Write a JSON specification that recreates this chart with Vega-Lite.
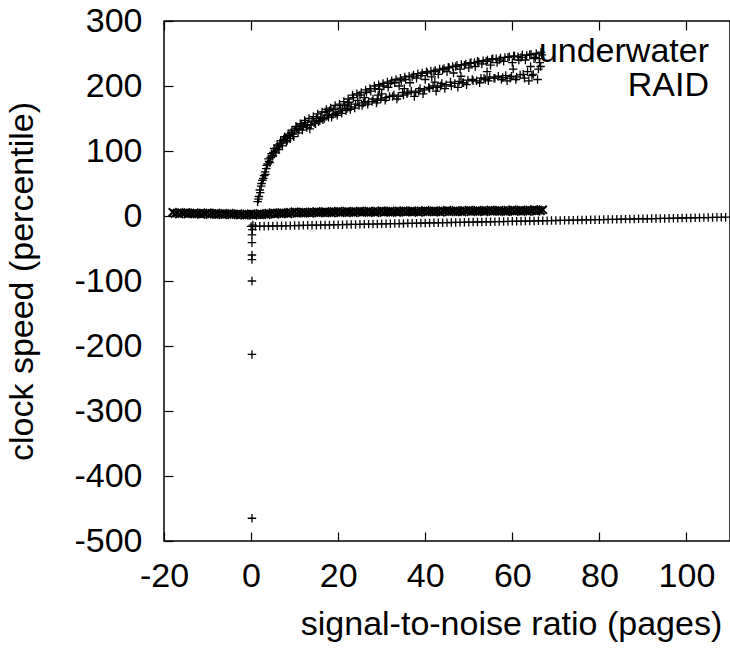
{
  "$schema": "https://vega.github.io/schema/vega-lite/v6.json",
  "width": 566,
  "height": 520,
  "autosize": {"type": "none"},
  "padding": {"left": 164, "top": 21, "right": 0, "bottom": 107},
  "background": "#ffffff",
  "datasets": {
    "underwater": [
      {"x":1.5,"y":22},{"x":1.8,"y":30},{"x":2.0,"y":40},{"x":2.3,"y":46},{"x":2.6,"y":55},{"x":3.0,"y":62},{"x":3.2,"y":68},{"x":3.5,"y":73},{"x":3.8,"y":80},{"x":4.1,"y":84},
      {"x":4.5,"y":90},{"x":4.8,"y":93},{"x":5.1,"y":98},{"x":5.5,"y":100},{"x":5.8,"y":104},{"x":6.2,"y":106},{"x":6.6,"y":111},{"x":7.0,"y":112},{"x":7.5,"y":118},{"x":8.0,"y":120},
      {"x":8.3,"y":116},{"x":8.8,"y":124},{"x":9.2,"y":128},{"x":9.6,"y":126},{"x":10.0,"y":131},{"x":10.5,"y":135},{"x":11.0,"y":133},{"x":11.5,"y":140},{"x":12.0,"y":138},{"x":12.5,"y":144},
      {"x":13.0,"y":140},{"x":13.5,"y":134},{"x":14.0,"y":146},{"x":14.5,"y":143},{"x":15.0,"y":150},{"x":15.5,"y":145},{"x":16.0,"y":152},{"x":16.5,"y":148},{"x":17.0,"y":160},{"x":17.5,"y":155},
      {"x":18.0,"y":162},{"x":18.5,"y":152},{"x":19.0,"y":164},{"x":19.5,"y":158},{"x":20.0,"y":160},{"x":20.5,"y":166},{"x":21.0,"y":163},{"x":21.5,"y":170},{"x":22.0,"y":165},{"x":22.5,"y":175},
      {"x":23.0,"y":168},{"x":23.5,"y":182},{"x":24.0,"y":172},{"x":24.5,"y":178},{"x":25.0,"y":186},{"x":25.5,"y":170},{"x":26.0,"y":182},{"x":26.5,"y":190},{"x":27.0,"y":176},{"x":27.5,"y":192},
      {"x":28.0,"y":180},{"x":28.5,"y":196},{"x":29.0,"y":178},{"x":29.5,"y":195},{"x":30.0,"y":188},{"x":30.5,"y":200},{"x":31.0,"y":182},{"x":31.5,"y":198},{"x":32.0,"y":204},{"x":32.5,"y":184},
      {"x":33.0,"y":205},{"x":33.5,"y":180},{"x":34.0,"y":200},{"x":34.5,"y":208},{"x":35.0,"y":186},{"x":35.5,"y":210},{"x":36.0,"y":190},{"x":36.5,"y":205},{"x":37.0,"y":214},{"x":37.5,"y":184},
      {"x":38.0,"y":212},{"x":38.5,"y":192},{"x":39.0,"y":216},{"x":39.5,"y":188},{"x":40.0,"y":210},{"x":40.5,"y":220},{"x":41.0,"y":196},{"x":41.5,"y":214},{"x":42.0,"y":222},{"x":42.5,"y":192},
      {"x":43.0,"y":218},{"x":43.5,"y":200},{"x":44.0,"y":225},{"x":44.5,"y":196},{"x":45.0,"y":222},{"x":45.5,"y":228},{"x":46.0,"y":200},{"x":46.5,"y":220},{"x":47.0,"y":230},{"x":47.5,"y":198},
      {"x":48.0,"y":226},{"x":48.5,"y":205},{"x":49.0,"y":232},{"x":49.5,"y":202},{"x":50.0,"y":228},{"x":50.5,"y":236},{"x":51.0,"y":208},{"x":51.5,"y":230},{"x":52.0,"y":238},{"x":52.5,"y":205},
      {"x":53.0,"y":234},{"x":53.5,"y":212},{"x":54.0,"y":238},{"x":54.5,"y":208},{"x":55.0,"y":232},{"x":55.5,"y":242},{"x":56.0,"y":212},{"x":56.5,"y":236},{"x":57.0,"y":240},{"x":57.5,"y":210},
      {"x":58.0,"y":238},{"x":58.5,"y":216},{"x":59.0,"y":244},{"x":59.5,"y":212},{"x":60.0,"y":236},{"x":60.5,"y":246},{"x":61.0,"y":214},{"x":61.5,"y":240},{"x":62.0,"y":244},{"x":62.5,"y":218},
      {"x":63.0,"y":240},{"x":63.5,"y":222},{"x":64.0,"y":248},{"x":64.5,"y":216},{"x":65.0,"y":242},{"x":65.5,"y":250},{"x":66.0,"y":226},{"x":66.3,"y":236},{"x":66.6,"y":252},{"x":66.5,"y":230},
      {"x":22.2,"y":172},{"x":26.2,"y":176},{"x":29.2,"y":186},{"x":35.2,"y":196},{"x":42.2,"y":206},{"x":48.2,"y":215},{"x":54.2,"y":222},{"x":60.2,"y":226},{"x":64.2,"y":230},
      {"x":1.7,"y":26},{"x":2.1,"y":36},{"x":2.4,"y":50},{"x":2.8,"y":58},{"x":3.3,"y":64},{"x":3.6,"y":78},{"x":4.0,"y":88},{"x":4.3,"y":82},{"x":4.7,"y":96},{"x":5.0,"y":92},
      {"x":5.3,"y":104},{"x":5.7,"y":97},{"x":6.0,"y":109},{"x":6.4,"y":102},{"x":6.8,"y":116},{"x":7.2,"y":108},{"x":7.7,"y":122},{"x":8.1,"y":114},{"x":8.5,"y":126},{"x":9.0,"y":119},
      {"x":9.4,"y":132},{"x":9.8,"y":122},{"x":10.3,"y":138},{"x":10.8,"y":128},{"x":11.3,"y":142},{"x":11.8,"y":132},{"x":12.3,"y":147},{"x":12.8,"y":136},{"x":13.3,"y":150},{"x":13.8,"y":140},
      {"x":14.3,"y":153},{"x":14.8,"y":142},{"x":15.3,"y":157},{"x":15.8,"y":147},{"x":16.3,"y":160},{"x":16.8,"y":150},{"x":17.3,"y":164},{"x":17.8,"y":152},{"x":18.3,"y":166},{"x":18.8,"y":156},
      {"x":19.3,"y":170},{"x":19.8,"y":155},{"x":20.3,"y":172},{"x":20.8,"y":158},{"x":21.3,"y":176},{"x":21.8,"y":162},{"x":22.3,"y":180},{"x":22.8,"y":164},{"x":23.3,"y":186},{"x":23.8,"y":166},
      {"x":24.3,"y":188},{"x":24.8,"y":170},{"x":25.3,"y":190},{"x":25.8,"y":174},{"x":26.3,"y":194},{"x":26.8,"y":172},{"x":27.3,"y":196},{"x":27.8,"y":176},{"x":28.3,"y":200},{"x":28.8,"y":174},
      {"x":29.3,"y":202},{"x":29.8,"y":180},{"x":30.3,"y":204},{"x":30.8,"y":178},{"x":31.3,"y":206},{"x":31.8,"y":184},{"x":32.3,"y":208},{"x":32.8,"y":186},{"x":33.3,"y":210},{"x":33.8,"y":184},
      {"x":34.3,"y":212},{"x":34.8,"y":190},{"x":35.3,"y":214},{"x":35.8,"y":188},{"x":36.3,"y":215},{"x":36.8,"y":192},{"x":37.3,"y":217},{"x":37.8,"y":190},{"x":38.3,"y":219},{"x":38.8,"y":196},
      {"x":39.3,"y":220},{"x":39.8,"y":194},{"x":40.3,"y":222},{"x":40.8,"y":198},{"x":41.3,"y":223},{"x":41.8,"y":200},{"x":42.3,"y":224},{"x":42.8,"y":198},{"x":43.3,"y":226},{"x":43.8,"y":204},
      {"x":44.3,"y":227},{"x":44.8,"y":202},{"x":45.3,"y":229},{"x":45.8,"y":206},{"x":46.3,"y":230},{"x":46.8,"y":204},{"x":47.3,"y":232},{"x":47.8,"y":207},{"x":48.3,"y":233},{"x":48.8,"y":205},
      {"x":49.3,"y":234},{"x":49.8,"y":209},{"x":50.3,"y":235},{"x":50.8,"y":210},{"x":51.3,"y":236},{"x":51.8,"y":208},{"x":52.3,"y":237},{"x":52.8,"y":212},{"x":53.3,"y":239},{"x":53.8,"y":210},
      {"x":54.3,"y":240},{"x":54.8,"y":214},{"x":55.3,"y":241},{"x":55.8,"y":212},{"x":56.3,"y":242},{"x":56.8,"y":215},{"x":57.3,"y":243},{"x":57.8,"y":213},{"x":58.3,"y":244},{"x":58.8,"y":208},
      {"x":59.3,"y":245},{"x":59.8,"y":215},{"x":60.3,"y":246},{"x":60.8,"y":210},{"x":61.3,"y":245},{"x":61.8,"y":217},{"x":62.3,"y":248},{"x":62.8,"y":212},{"x":63.3,"y":247},{"x":63.8,"y":208},
      {"x":64.3,"y":249},{"x":64.8,"y":218},{"x":65.3,"y":244},{"x":65.8,"y":210},{"x":66.2,"y":242},{"x":66.8,"y":248},
      {"x":0.2,"y":-465},{"x":0.2,"y":-213},{"x":0.2,"y":-100},{"x":0.2,"y":-67},{"x":0.2,"y":-60},{"x":0.2,"y":-41},{"x":0.2,"y":-29},{"x":0.3,"y":-21},{"x":0.4,"y":-14},
      {"x":0,"y":-16.0},{"x":1,"y":-15.9},{"x":2,"y":-15.7},{"x":3,"y":-15.6},{"x":4,"y":-15.5},{"x":5,"y":-15.4},{"x":6,"y":-15.2},{"x":7,"y":-15.1},{"x":8,"y":-15.0},{"x":9,"y":-14.8},
      {"x":10,"y":-14.7},{"x":11,"y":-14.6},{"x":12,"y":-14.4},{"x":13,"y":-14.3},{"x":14,"y":-14.2},{"x":15,"y":-14.1},{"x":16,"y":-13.9},{"x":17,"y":-13.8},{"x":18,"y":-13.7},{"x":19,"y":-13.5},
      {"x":20,"y":-13.4},{"x":21,"y":-13.3},{"x":22,"y":-13.1},{"x":23,"y":-13.0},{"x":24,"y":-12.9},{"x":25,"y":-12.8},{"x":26,"y":-12.6},{"x":27,"y":-12.5},{"x":28,"y":-12.4},{"x":29,"y":-12.2},
      {"x":30,"y":-12.1},{"x":31,"y":-12.0},{"x":32,"y":-11.8},{"x":33,"y":-11.7},{"x":34,"y":-11.6},{"x":35,"y":-11.5},{"x":36,"y":-11.3},{"x":37,"y":-11.2},{"x":38,"y":-11.1},{"x":39,"y":-10.9},
      {"x":40,"y":-10.8},{"x":41,"y":-10.7},{"x":42,"y":-10.5},{"x":43,"y":-10.4},{"x":44,"y":-10.3},{"x":45,"y":-10.2},{"x":46,"y":-10.0},{"x":47,"y":-9.9},{"x":48,"y":-9.8},{"x":49,"y":-9.6},
      {"x":50,"y":-9.5},{"x":51,"y":-9.4},{"x":52,"y":-9.2},{"x":53,"y":-9.1},{"x":54,"y":-9.0},{"x":55,"y":-8.9},{"x":56,"y":-8.7},{"x":57,"y":-8.6},{"x":58,"y":-8.5},{"x":59,"y":-8.3},
      {"x":60,"y":-8.2},{"x":61,"y":-8.1},{"x":62,"y":-7.9},{"x":63,"y":-7.8},{"x":64,"y":-7.7},{"x":65,"y":-7.6},{"x":66,"y":-7.4},{"x":67,"y":-7.3},{"x":68,"y":-7.2},{"x":69,"y":-7.0},
      {"x":70,"y":-6.9},{"x":71,"y":-6.8},{"x":72,"y":-6.6},{"x":73,"y":-6.5},{"x":74,"y":-6.4},{"x":75,"y":-6.3},{"x":76,"y":-6.1},{"x":77,"y":-6.0},{"x":78,"y":-5.9},{"x":79,"y":-5.7},
      {"x":80,"y":-5.6},{"x":81,"y":-5.5},{"x":82,"y":-5.3},{"x":83,"y":-5.2},{"x":84,"y":-5.1},{"x":85,"y":-5.0},{"x":86,"y":-4.8},{"x":87,"y":-4.7},{"x":88,"y":-4.6},{"x":89,"y":-4.4},
      {"x":90,"y":-4.3},{"x":91,"y":-4.2},{"x":92,"y":-4.0},{"x":93,"y":-3.9},{"x":94,"y":-3.8},{"x":95,"y":-3.7},{"x":96,"y":-3.5},{"x":97,"y":-3.4},{"x":98,"y":-3.3},{"x":99,"y":-3.1},
      {"x":100,"y":-3.0},{"x":101,"y":-2.9},{"x":102,"y":-2.7},{"x":103,"y":-2.6},{"x":104,"y":-2.5},{"x":105,"y":-2.4},{"x":106,"y":-2.2},{"x":107,"y":-2.1},{"x":108,"y":-2.0},{"x":109,"y":-1.8}
    ],
    "raid": [
      {"x":-18,"y":5.7},{"x":-17.5,"y":3.6},{"x":-17,"y":4.7},{"x":-16.5,"y":2.9},{"x":-16,"y":5.2},{"x":-15.5,"y":4.0},{"x":-15,"y":5.6},{"x":-14.5,"y":3.1},{"x":-14,"y":4.6},{"x":-13.5,"y":3.4},
      {"x":-13,"y":5.1},{"x":-12.5,"y":3.0},{"x":-12,"y":4.1},{"x":-11.5,"y":2.3},{"x":-11,"y":4.5},{"x":-10.5,"y":3.4},{"x":-10,"y":5.0},{"x":-9.5,"y":2.4},{"x":-9,"y":4.0},{"x":-8.5,"y":2.8},
      {"x":-8,"y":4.5},{"x":-7.5,"y":2.4},{"x":-7,"y":3.4},{"x":-6.5,"y":1.7},{"x":-6,"y":3.9},{"x":-5.5,"y":2.7},{"x":-5,"y":4.3},{"x":-4.5,"y":1.8},{"x":-4,"y":3.3},{"x":-3.5,"y":2.1},
      {"x":-3,"y":3.7},{"x":-2.5,"y":1.6},{"x":-2,"y":2.6},{"x":-1.5,"y":0.9},{"x":-1,"y":3.1},{"x":-0.5,"y":1.9},{"x":0,"y":3.5},{"x":0.5,"y":1.2},{"x":1,"y":2.9},{"x":1.5,"y":2.0},
      {"x":2,"y":3.9},{"x":2.5,"y":2.0},{"x":3,"y":3.3},{"x":3.5,"y":1.8},{"x":4,"y":4.2},{"x":4.5,"y":3.3},{"x":5,"y":5.2},{"x":5.5,"y":2.8},{"x":6,"y":4.6},{"x":6.5,"y":3.6},
      {"x":7,"y":5.5},{"x":7.5,"y":3.6},{"x":8,"y":4.8},{"x":8.5,"y":3.2},{"x":9,"y":5.7},{"x":9.5,"y":4.7},{"x":10,"y":6.5},{"x":10.5,"y":4.1},{"x":11,"y":5.7},{"x":11.5,"y":4.7},
      {"x":12,"y":6.4},{"x":12.5,"y":4.5},{"x":13,"y":5.6},{"x":13.5,"y":4.0},{"x":14,"y":6.3},{"x":14.5,"y":5.3},{"x":15,"y":7.0},{"x":15.5,"y":4.6},{"x":16,"y":6.2},{"x":16.5,"y":5.2},
      {"x":17,"y":6.9},{"x":17.5,"y":5.0},{"x":18,"y":6.1},{"x":18.5,"y":4.5},{"x":19,"y":6.8},{"x":19.5,"y":5.8},{"x":20,"y":7.5},{"x":20.5,"y":5.0},{"x":21,"y":6.7},{"x":21.5,"y":5.6},
      {"x":22,"y":7.3},{"x":22.5,"y":5.3},{"x":23,"y":6.5},{"x":23.5,"y":4.8},{"x":24,"y":7.1},{"x":24.5,"y":6.0},{"x":25,"y":7.8},{"x":25.5,"y":5.3},{"x":26,"y":6.9},{"x":26.5,"y":5.8},
      {"x":27,"y":7.6},{"x":27.5,"y":5.6},{"x":28,"y":6.7},{"x":28.5,"y":5.0},{"x":29,"y":7.4},{"x":29.5,"y":6.3},{"x":30,"y":8.0},{"x":30.5,"y":5.5},{"x":31,"y":7.2},{"x":31.5,"y":6.1},
      {"x":32,"y":7.8},{"x":32.5,"y":5.8},{"x":33,"y":7.0},{"x":33.5,"y":5.3},{"x":34,"y":7.6},{"x":34.5,"y":6.5},{"x":35,"y":8.3},{"x":35.5,"y":5.8},{"x":36,"y":7.4},{"x":36.5,"y":6.3},
      {"x":37,"y":8.1},{"x":37.5,"y":6.1},{"x":38,"y":7.2},{"x":38.5,"y":5.5},{"x":39,"y":7.9},{"x":39.5,"y":6.8},{"x":40,"y":8.5},{"x":40.5,"y":6.0},{"x":41,"y":7.7},{"x":41.5,"y":6.6},
      {"x":42,"y":8.3},{"x":42.5,"y":6.3},{"x":43,"y":7.5},{"x":43.5,"y":5.8},{"x":44,"y":8.1},{"x":44.5,"y":7.0},{"x":45,"y":8.8},{"x":45.5,"y":6.3},{"x":46,"y":7.9},{"x":46.5,"y":6.8},
      {"x":47,"y":8.6},{"x":47.5,"y":6.6},{"x":48,"y":7.7},{"x":48.5,"y":6.0},{"x":49,"y":8.4},{"x":49.5,"y":7.3},{"x":50,"y":9.0},{"x":50.5,"y":6.5},{"x":51,"y":8.2},{"x":51.5,"y":7.1},
      {"x":52,"y":8.8},{"x":52.5,"y":6.8},{"x":53,"y":8.0},{"x":53.5,"y":6.3},{"x":54,"y":8.6},{"x":54.5,"y":7.5},{"x":55,"y":9.3},{"x":55.5,"y":6.8},{"x":56,"y":8.4},{"x":56.5,"y":7.3},
      {"x":57,"y":9.1},{"x":57.5,"y":7.1},{"x":58,"y":8.2},{"x":58.5,"y":6.5},{"x":59,"y":8.9},{"x":59.5,"y":7.8},{"x":60,"y":9.5},{"x":60.5,"y":7.0},{"x":61,"y":8.7},{"x":61.5,"y":7.6},
      {"x":62,"y":9.3},{"x":62.5,"y":7.4},{"x":63,"y":8.5},{"x":63.5,"y":6.9},{"x":64,"y":9.2},{"x":64.5,"y":8.1},{"x":65,"y":9.9},{"x":65.5,"y":7.4},{"x":66,"y":9.0},{"x":66.5,"y":8.0},
      {"x":67,"y":9.7}
    ]
  },
  "config": {
    "font": "Liberation Sans",
    "view": {"stroke": "#000000", "strokeWidth": 1.5},
    "axis": {
      "labelFont": "Liberation Sans",
      "labelFontSize": 34,
      "labelColor": "#000000",
      "titleFont": "Liberation Sans",
      "titleFontSize": 34,
      "titleFontWeight": "normal",
      "titleColor": "#000000",
      "tickColor": "#000000",
      "tickSize": -9,
      "tickWidth": 1.2,
      "domain": false,
      "grid": false,
      "labelFlush": false,
      "labelOverlap": false,
      "labelBound": false,
      "labelExpr": "'' + datum.value"
    },
    "legend": {
      "orient": "none",
      "legendX": 507,
      "legendY": 14,
      "labelFont": "Liberation Sans",
      "labelFontSize": 34,
      "labelColor": "#000000",
      "labelAlign": "right",
      "labelLimit": 400,
      "symbolOpacity": 0,
      "symbolStrokeWidth": 0,
      "rowPadding": -3,
      "padding": 0,
      "titlePadding": 0
    }
  },
  "resolve": {"axis": {"x": "independent"}},
  "layer": [
    {
      "data": {"name": "raid"},
      "mark": {"type": "point", "filled": false, "stroke": "#000000", "strokeWidth": 2, "size": 100, "opacity": 1},
      "encoding": {
        "x": {
          "field": "x", "type": "quantitative",
          "scale": {"domain": [-20, 110], "nice": false, "zero": false},
          "axis": {"orient": "bottom", "values": [-20, 0, 20, 40, 60, 80, 100], "labelPadding": 27, "title": "signal-to-noise ratio (pages)", "titleX": 347, "titleY": 93, "titleBaseline": "alphabetic", "titleAlign": "center", "titleAnchor": "start"}
        },
        "y": {
          "field": "y", "type": "quantitative",
          "scale": {"domain": [-500, 300], "nice": false, "zero": false},
          "axis": {"orient": "left", "values": [-500, -400, -300, -200, -100, 0, 100, 200, 300], "labelPadding": 31, "title": "clock speed (percentile)", "titleX": -132, "titleY": 260, "titleBaseline": "alphabetic", "titleAlign": "center", "titleAnchor": "start", "titleAngle": -90}
        },
        "shape": {
          "datum": "RAID", "type": "nominal",
          "scale": {"domain": ["underwater", "RAID"], "range": ["M-1,0H1M0,-1V1", "M-0.8,-0.8L0.8,0.8M-0.8,0.8L0.8,-0.8"]},
          "legend": {"title": null}
        }
      }
    },
    {
      "data": {"name": "underwater"},
      "mark": {"type": "point", "filled": false, "stroke": "#000000", "strokeWidth": 1.3, "size": 72, "opacity": 1},
      "encoding": {
        "x": {"field": "x", "type": "quantitative", "axis": {"orient": "top", "values": [-20, 0, 20, 40, 60, 80, 100], "labels": false, "title": null}},
        "y": {"field": "y", "type": "quantitative"},
        "shape": {"datum": "underwater", "type": "nominal"}
      }
    }
  ]
}
